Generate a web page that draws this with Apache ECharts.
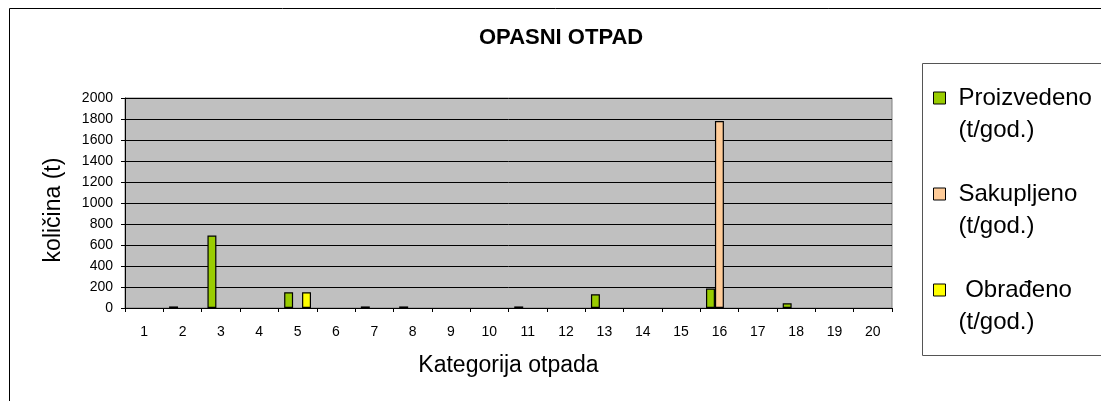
<!DOCTYPE html>
<html>
<head>
<meta charset="utf-8">
<script src="https://cdn.jsdelivr.net/npm/echarts@6/dist/echarts.min.js"></script>
<style>
  html, body { margin: 0; padding: 0; background: #fff; }
  #chart { width: 1101px; height: 401px; }
</style>
</head>
<body>
<div id="chart"></div>
<script>
  // kategorije otpada 1..20
  var categories = ['1', '2', '3', '4', '5', '6', '7', '8', '9', '10',
    '11', '12', '13', '14', '15', '16', '17', '18', '19', '20']
  var proizvedeno = [0, 15, 690, 0, 150, 0, 15, 15, 0, 0, 15, 0, 130, 0, 0, 185, 0, 45, 0, 0]
  var sakupljeno = [0, 0, 0, 0, 0, 0, 0, 0, 0, 0, 0, 0, 0, 0, 0, 1780, 0, 0, 0, 0]
  var obradjeno = [0, 0, 0, 0, 150, 0, 0, 0, 0, 0, 0, 0, 0, 0, 0, 0, 0, 0, 0, 0]
  var yTicks = [0, 200, 400, 600, 800, 1000, 1200, 1400, 1600, 1800, 2000]

  var font = 'Liberation Sans'
  var colorData = {
    'Proizvedeno': '#99cc00',
    'Sakupljeno': '#ffcc99',
    'Obradjeno': '#ffff00'
  }

  function barSeries (name, color, data) {
    return {
      name: name,
      type: 'bar',
      barGap: 0,
      barCategoryGap: '30%',
      itemStyle: {
        color: color,
        borderColor: '#000',
        borderWidth: 1.2
      },
      emphasis: { disabled: true },
      // nule se ne crtaju (u originalu nema stupca)
      data: data.map(function (v) { return v === 0 ? '-' : v })
    }
  }

  var chart = echarts.init(document.getElementById('chart'), null, { renderer: 'canvas' })

  var option = {
    animation: false,
    textStyle: { fontFamily: font },
    title: {
      text: 'OPASNI OTPAD',
      left: 479,
      top: 27,
      padding: 0,
      textStyle: { fontFamily: font, fontSize: 22, fontWeight: 'bold', color: '#000' }
    },
    graphic: [
      { // okvir grafikona
        type: 'rect',
        shape: { x: 9.5, y: 8.5, width: 1200, height: 500 },
        style: { fill: null, stroke: '#000', lineWidth: 1 },
        silent: true
      },
      { // okvir legende
        type: 'rect',
        shape: { x: 922.5, y: 63.5, width: 300, height: 292 },
        style: { fill: null, stroke: '#555', lineWidth: 1 },
        silent: true
      }
    ],
    legend: {
      orient: 'vertical',
      left: 933,
      top: 50,
      padding: 0,
      itemGap: 0,
      itemWidth: 12,
      itemHeight: 12,
      icon: 'rect',
      itemStyle: { borderColor: '#000', borderWidth: 1 },
      formatter: function (name) {
        var label = name === 'Obradjeno' ? ' Obrađeno' : name
        return '\n' + label + '\n(t/god.)'
      },
      textStyle: {
        fontFamily: font,
        fontSize: 24,
        lineHeight: 32,
        color: '#000',
        padding: [0, 0, 0, 8]
      },
      data: ['Proizvedeno', 'Sakupljeno', 'Obradjeno']
    },
    grid: {
      left: 125,
      right: 209,
      top: 98,
      bottom: 93,
      show: true,
      backgroundColor: '#c0c0c0',
      borderColor: '#808080',
      borderWidth: 1
    },
    xAxis: {
      type: 'category',
      data: categories,
      name: 'Kategorija otpada',
      nameLocation: 'middle',
      nameGap: 46,
      nameTextStyle: { fontFamily: font, fontSize: 23, color: '#000' },
      axisLine: { lineStyle: { color: '#000', width: 1 } },
      axisTick: { show: true, length: 4, lineStyle: { color: '#000' } },
      axisLabel: { fontFamily: font, fontSize: 14, color: '#000', margin: 17, interval: 0 },
      splitLine: { show: false }
    },
    yAxis: {
      type: 'value',
      min: yTicks[0],
      max: yTicks[yTicks.length - 1],
      interval: yTicks[1] - yTicks[0],
      name: 'količina (t)',
      nameLocation: 'middle',
      nameGap: 60,
      nameTextStyle: { fontFamily: font, fontSize: 23, color: '#000', padding: [0, 14, 0, 0] },
      axisLine: { show: true, lineStyle: { color: '#000', width: 1 } },
      axisTick: { show: true, length: 4, lineStyle: { color: '#000' } },
      axisLabel: {
        fontFamily: font,
        fontSize: 14,
        color: '#000',
        margin: 12,
        formatter: function (v) { return String(v) }
      },
      splitLine: { show: true, lineStyle: { color: '#000', width: 1 } }
    },
    series: [
      barSeries('Proizvedeno', colorData['Proizvedeno'], proizvedeno),
      barSeries('Sakupljeno', colorData['Sakupljeno'], sakupljeno),
      barSeries('Obradjeno', colorData['Obradjeno'], obradjeno)
    ]
  }

  chart.setOption(option)
</script>
</body>
</html>
